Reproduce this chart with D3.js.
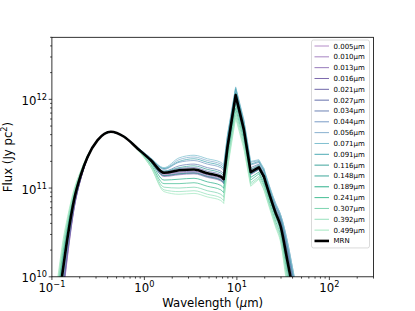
<!DOCTYPE html>
<html>
<head>
<meta charset="utf-8">
<script src="https://cdn.jsdelivr.net/npm/d3@7"></script>
<style>
  body { margin: 0; background: #fff; }
  text { font-family: "DejaVu Sans", sans-serif; fill: #000; }
</style>
</head>
<body>
<div id="chart"></div>
<script>
// wavelength grid (micron)
const wavelength = [0.11, 0.12, 0.13, 0.148, 0.174, 0.206, 0.243, 0.312, 0.434, 0.604, 0.841, 1.17, 1.63, 2.37, 3.44, 4.8, 6.7, 7.2, 7.9, 9.7, 11.9, 14.1, 17.3, 19.6, 26.2, 29.7, 35, 40, 45];

const grainSizes = ["0.005", "0.010", "0.013", "0.016", "0.021", "0.027", "0.034", "0.044", "0.056", "0.071", "0.091", "0.116", "0.148", "0.189", "0.241", "0.307", "0.392", "0.499"];

const lineColors = ["#b48cc8", "#a684c2", "#967abb", "#7d6aae", "#6f66a8", "#6670ac", "#6c82b4", "#7a9cc6", "#88b0cf", "#80c0d0", "#4eaab4", "#3fa49c", "#3ea89a", "#2fb08c", "#45be94", "#7dd4b0", "#96e0bc", "#a4e8c2"];

// log10 flux (Jy pc^2), one row per grain size
const sizeLogFlux = [
  [9.20, 9.48, 9.74, 10.24, 10.77, 11.11, 11.34, 11.54, 11.63, 11.58, 11.45, 11.31, 11.15, 11.17, 11.18, 11.14, 11.10, 11.07, 11.43, 12.02, 11.64, 11.16, 11.22, 11.12, 10.74, 10.61, 10.25, 9.94, 9.66],
  [9.22, 9.50, 9.76, 10.25, 10.77, 11.11, 11.34, 11.54, 11.63, 11.58, 11.45, 11.30, 11.14, 11.16, 11.17, 11.13, 11.09, 11.06, 11.42, 12.01, 11.63, 11.16, 11.21, 11.12, 10.73, 10.61, 10.25, 9.94, 9.66],
  [9.24, 9.52, 9.78, 10.27, 10.78, 11.11, 11.34, 11.54, 11.63, 11.58, 11.45, 11.30, 11.13, 11.15, 11.16, 11.12, 11.08, 11.05, 11.41, 12.00, 11.62, 11.15, 11.21, 11.11, 10.73, 10.61, 10.26, 9.95, 9.67],
  [9.26, 9.54, 9.80, 10.28, 10.79, 11.11, 11.34, 11.54, 11.63, 11.58, 11.45, 11.30, 11.14, 11.16, 11.17, 11.13, 11.09, 11.06, 11.42, 12.01, 11.63, 11.16, 11.21, 11.12, 10.74, 10.62, 10.28, 9.97, 9.69],
  [9.28, 9.56, 9.82, 10.30, 10.79, 11.12, 11.34, 11.54, 11.63, 11.58, 11.45, 11.31, 11.16, 11.18, 11.19, 11.15, 11.11, 11.08, 11.44, 12.03, 11.64, 11.17, 11.22, 11.13, 10.75, 10.64, 10.30, 9.99, 9.71],
  [9.31, 9.59, 9.85, 10.32, 10.80, 11.12, 11.34, 11.54, 11.63, 11.58, 11.45, 11.32, 11.18, 11.22, 11.23, 11.19, 11.15, 11.12, 11.48, 12.06, 11.67, 11.20, 11.25, 11.15, 10.77, 10.65, 10.33, 10.02, 9.74],
  [9.34, 9.62, 9.88, 10.34, 10.81, 11.13, 11.34, 11.54, 11.63, 11.58, 11.45, 11.32, 11.19, 11.25, 11.27, 11.23, 11.19, 11.16, 11.51, 12.08, 11.70, 11.23, 11.27, 11.17, 10.79, 10.67, 10.36, 10.05, 9.77],
  [9.38, 9.66, 9.92, 10.37, 10.83, 11.13, 11.34, 11.54, 11.63, 11.58, 11.46, 11.33, 11.21, 11.29, 11.31, 11.27, 11.23, 11.20, 11.55, 12.11, 11.73, 11.26, 11.29, 11.19, 10.81, 10.69, 10.39, 10.08, 9.80],
  [9.42, 9.70, 9.96, 10.39, 10.84, 11.14, 11.35, 11.54, 11.63, 11.58, 11.46, 11.34, 11.22, 11.32, 11.35, 11.31, 11.27, 11.24, 11.58, 12.13, 11.76, 11.29, 11.31, 11.21, 10.83, 10.70, 10.41, 10.10, 9.82],
  [9.46, 9.74, 10.00, 10.42, 10.86, 11.14, 11.35, 11.54, 11.63, 11.58, 11.46, 11.34, 11.23, 11.34, 11.37, 11.33, 11.29, 11.26, 11.60, 12.14, 11.77, 11.30, 11.32, 11.22, 10.83, 10.70, 10.41, 10.10, 9.82],
  [9.50, 9.78, 10.04, 10.45, 10.87, 11.15, 11.35, 11.54, 11.63, 11.58, 11.45, 11.33, 11.22, 11.30, 11.33, 11.29, 11.25, 11.22, 11.57, 12.12, 11.74, 11.27, 11.30, 11.20, 10.80, 10.67, 10.35, 10.04, 9.76],
  [9.55, 9.83, 10.09, 10.49, 10.89, 11.16, 11.35, 11.54, 11.63, 11.58, 11.45, 11.32, 11.19, 11.23, 11.25, 11.21, 11.17, 11.14, 11.49, 12.07, 11.69, 11.21, 11.26, 11.15, 10.75, 10.61, 10.25, 9.94, 9.66],
  [9.60, 9.88, 10.14, 10.52, 10.91, 11.17, 11.36, 11.54, 11.63, 11.58, 11.45, 11.30, 11.14, 11.16, 11.17, 11.13, 11.09, 11.06, 11.42, 12.01, 11.63, 11.16, 11.21, 11.11, 10.70, 10.55, 10.15, 9.84, 9.56],
  [9.65, 9.93, 10.19, 10.56, 10.92, 11.17, 11.36, 11.54, 11.63, 11.58, 11.44, 11.29, 11.09, 11.10, 11.11, 11.07, 11.03, 11.00, 11.37, 11.95, 11.58, 11.12, 11.18, 11.07, 10.67, 10.51, 10.09, 9.78, 9.50],
  [9.70, 9.98, 10.24, 10.59, 10.94, 11.18, 11.36, 11.54, 11.63, 11.58, 11.44, 11.27, 11.05, 11.05, 11.06, 11.02, 10.98, 10.95, 11.32, 11.90, 11.54, 11.09, 11.16, 11.04, 10.63, 10.47, 10.03, 9.72, 9.44],
  [9.75, 10.03, 10.29, 10.63, 10.96, 11.19, 11.36, 11.54, 11.63, 11.58, 11.44, 11.26, 11.01, 11.00, 11.01, 10.97, 10.93, 10.90, 11.28, 11.86, 11.50, 11.06, 11.13, 11.02, 10.60, 10.44, 9.97, 9.66, 9.38],
  [9.79, 10.07, 10.33, 10.65, 10.97, 11.19, 11.36, 11.54, 11.63, 11.58, 11.44, 11.24, 10.98, 10.96, 10.97, 10.93, 10.89, 10.86, 11.24, 11.82, 11.47, 11.04, 11.11, 10.99, 10.58, 10.41, 9.93, 9.62, 9.34],
  [9.83, 10.11, 10.37, 10.68, 10.99, 11.20, 11.37, 11.54, 11.63, 11.58, 11.43, 11.24, 10.96, 10.93, 10.94, 10.90, 10.86, 10.83, 11.21, 11.79, 11.44, 11.02, 11.10, 10.98, 10.56, 10.39, 9.89, 9.58, 9.30]
];

const mrnLogFlux = [9.50, 9.78, 10.04, 10.45, 10.87, 11.15, 11.35, 11.54, 11.634, 11.578, 11.447, 11.316, 11.173, 11.20, 11.21, 11.166, 11.128, 11.103, 11.457, 12.047, 11.659, 11.18, 11.234, 11.128, 10.72, 10.57, 10.19, 9.88, 9.60];

const xTickExponents = ["\u22121", "0", "1", "2"];
const yTickExponents = ["10", "11", "12"];

const width = 415, height = 311;
const margin = {left: 51.9, right: 41.5, top: 37.3, bottom: 34.2};
const plotW = width - margin.left - margin.right;
const plotH = height - margin.top - margin.bottom;

const svg = d3.select("#chart").append("svg")
    .attr("width", width)
    .attr("height", height);

const x = d3.scaleLog().domain([0.1, 300]).range([margin.left, margin.left + plotW]);
const y = d3.scaleLog().domain([1e10, 5e12]).range([margin.top + plotH, margin.top]);

svg.append("clipPath").attr("id", "plot-clip")
    .append("rect")
    .attr("x", margin.left).attr("y", margin.top)
    .attr("width", plotW).attr("height", plotH);

// smooth continuum, sharp silicate features in between
const pieces = [
    {from: 0, to: 17, curve: d3.curveMonotoneX},
    {from: 17, to: 23, curve: d3.curveLinear},
    {from: 23, to: 28, curve: d3.curveMonotoneX}
];

const curves = svg.append("g").attr("clip-path", "url(#plot-clip)");

function drawSeries(logFlux, color, lw) {
    const pts = wavelength.map(function(w, j) { return [w, logFlux[j]]; });
    pieces.forEach(function(p) {
        const line = d3.line()
            .curve(p.curve)
            .x(function(d) { return x(d[0]); })
            .y(function(d) { return y(Math.pow(10, d[1])); });
        curves.append("path")
            .datum(pts.slice(p.from, p.to + 1))
            .attr("d", line)
            .attr("fill", "none")
            .attr("stroke", color)
            .attr("stroke-width", lw)
            .attr("stroke-linecap", "round")
            .attr("stroke-linejoin", "round");
    });
}

sizeLogFlux.forEach(function(series, i) {
    drawSeries(series, lineColors[i], 0.75);
});
drawSeries(mrnLogFlux, "#000", 2.6);

// axes: ticks
function isMajor(v) {
    const e = Math.log10(v);
    return Math.abs(e - Math.round(e)) < 1e-9;
}

const axisG = svg.append("g").attr("stroke", "#000").attr("stroke-width", 0.72);

x.ticks().forEach(function(v) {
    const len = isMajor(v) ? 3.2 : 1.8;
    axisG.append("line")
        .attr("x1", x(v)).attr("x2", x(v))
        .attr("y1", margin.top + plotH).attr("y2", margin.top + plotH + len);
});

y.ticks().forEach(function(v) {
    const len = isMajor(v) ? 3.2 : 1.8;
    axisG.append("line")
        .attr("x1", margin.left - len).attr("x2", margin.left)
        .attr("y1", y(v)).attr("y2", y(v));
});

svg.append("rect")
    .attr("x", margin.left).attr("y", margin.top)
    .attr("width", plotW).attr("height", plotH)
    .attr("fill", "none")
    .attr("stroke", "#000")
    .attr("stroke-width", 0.8);

// tick labels
const fontSize = 11.7;

xTickExponents.forEach(function(e, i) {
    const t = svg.append("text")
        .attr("x", x(Math.pow(10, i - 1)))
        .attr("y", margin.top + plotH + 15)
        .attr("text-anchor", "middle")
        .style("font-size", fontSize + "px");
    t.append("tspan").text("10");
    t.append("tspan").text(e).attr("dy", -5).style("font-size", "8.2px");
});

yTickExponents.forEach(function(e, i) {
    const t = svg.append("text")
        .attr("x", margin.left - 5)
        .attr("y", y(Math.pow(10, 10 + i)) + 5.5)
        .attr("text-anchor", "end")
        .style("font-size", fontSize + "px");
    t.append("tspan").text("10");
    t.append("tspan").text(e).attr("dy", -5).style("font-size", "8.2px");
});

// axis labels
const xl = svg.append("text")
    .attr("x", margin.left + plotW / 2)
    .attr("y", 307)
    .attr("text-anchor", "middle")
    .style("font-size", fontSize + "px");
xl.append("tspan").text("Wavelength (");
xl.append("tspan").text("\u03bc").style("font-style", "italic");
xl.append("tspan").text("m)");

const yl = svg.append("text")
    .attr("transform", "translate(12," + (margin.top + plotH / 2) + ") rotate(-90)")
    .attr("text-anchor", "middle")
    .style("font-size", fontSize + "px");
yl.append("tspan").text("Flux (Jy pc");
yl.append("tspan").text("2").attr("dy", -5).style("font-size", "8.2px");
yl.append("tspan").text(")").attr("dy", 5);

// legend
const legendLabels = grainSizes.map(function(s) { return s + "\u00b5m"; }).concat(["MRN"]);
const legendColors = lineColors.concat(["#000"]);
const legend = svg.append("g");
const lgTop = 40, lgLeft = 311.5, lgRight = 369.5, rowH = 10.83, firstRow = 46;

legend.append("rect")
    .attr("x", lgLeft).attr("y", lgTop)
    .attr("width", lgRight - lgLeft)
    .attr("height", firstRow + rowH * (legendLabels.length - 1) + 7 - lgTop)
    .attr("rx", 2)
    .attr("fill", "#fff").attr("fill-opacity", 0.8)
    .attr("stroke", "#d0d0d0").attr("stroke-width", 0.8);

legendLabels.forEach(function(label, i) {
    const ly = firstRow + i * rowH;
    legend.append("line")
        .attr("x1", 314.5).attr("x2", 329)
        .attr("y1", ly).attr("y2", ly)
        .attr("stroke", legendColors[i])
        .attr("stroke-width", label === "MRN" ? 2.6 : 1);
    legend.append("text")
        .attr("x", 333.5).attr("y", ly + 2.5)
        .style("font-size", "7px")
        .text(label);
});
</script>
</body>
</html>
